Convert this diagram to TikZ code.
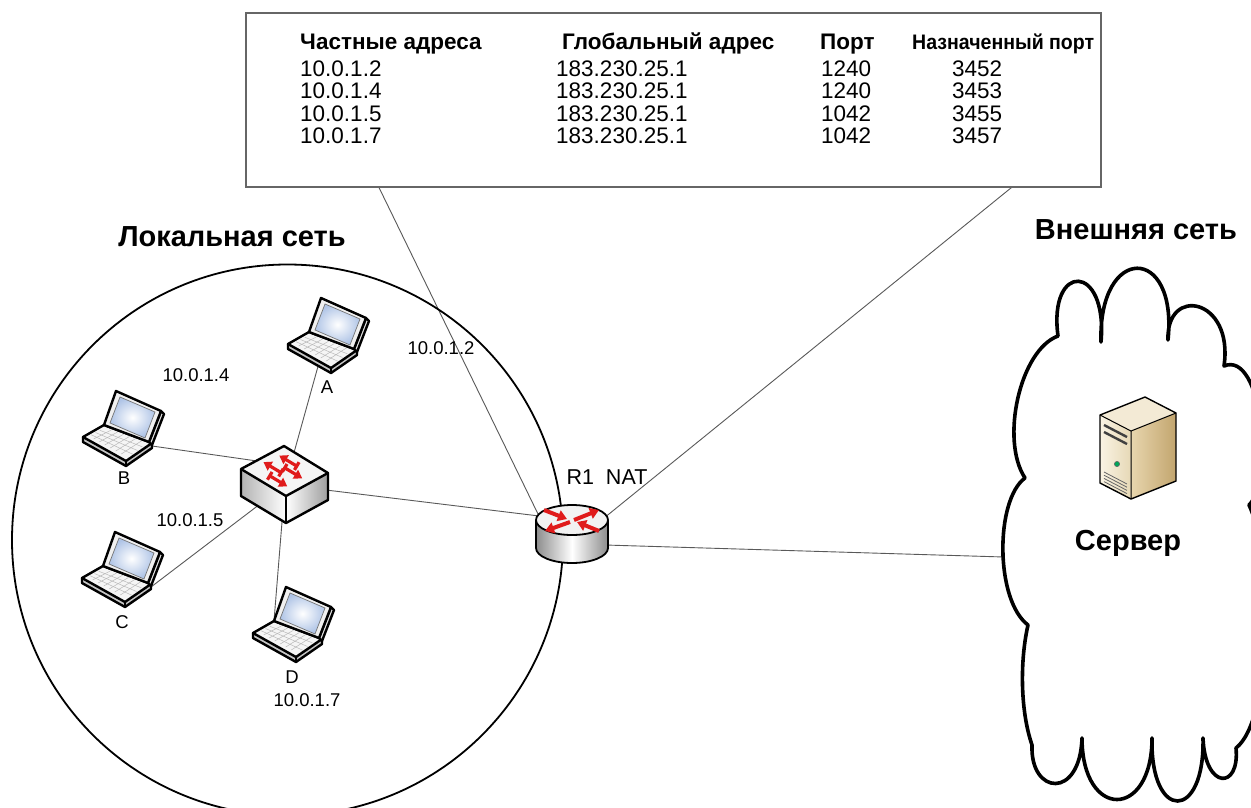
\documentclass[tikz,border=0pt]{standalone}
\usepackage{fontspec}
\setmainfont{Liberation Sans}
\usetikzlibrary{calc,arrows.meta}
\pgfdeclarelayer{background}
\pgfsetlayers{background,main}

\definecolor{lapblue}{HTML}{AFC4E6}
\definecolor{netred}{HTML}{E01B1B}
\definecolor{srvfront}{HTML}{FAF4E4}
\definecolor{srvfront2}{HTML}{E6D8B6}
\definecolor{srvside}{HTML}{E8D6AE}
\definecolor{srvside2}{HTML}{C2A56E}
\definecolor{srvtop}{HTML}{F3EAD5}

\tikzset{
  link/.style={draw=black!65, line width=0.9pt},
  outline/.style={draw=black, line width=2.4pt, line join=round},
  lbl/.style={font=\fontsize{18.5}{20}\selectfont, inner sep=0pt},
  ttl/.style={font=\bfseries\fontsize{29}{33}\selectfont, inner sep=0pt},
  cell/.style={font=\fontsize{22.5}{24}\selectfont, anchor=base west, inner sep=0pt},
  hcell/.style={font=\bfseries\fontsize{22.5}{24}\selectfont, anchor=base west, inner sep=0pt},
  swarrow/.style={draw=netred, line width=3.2pt, {Bar[width=9pt]}-{Triangle[length=8pt,width=10pt]}},
  rtarrow/.style={draw=netred, line width=4pt, -{Triangle[length=9pt,width=11pt]}},
  laptop/.pic={
    % keyboard base: front and right sides
    \fill[black!22] (-39,10) -- (4,34) -- (30,16) -- (30,21) -- (4,39) -- (-39,15) -- cycle;
    \draw[outline] (-39,10) -- (-39,15) -- (4,39) -- (30,21) -- (30,16);
    \draw[outline] (4,34) -- (4,39);
    % keyboard top with key grid
    \filldraw[fill=black!4, outline] (-39,10) -- (-18,-2) -- (30,16) -- (4,34) -- cycle;
    \foreach \k in {0.25,0.5,0.75}
      \draw[black!28, line width=0.5pt] ($(-35,10)!\k!(-18,1)$) -- ($(6,31)!\k!(25,16)$);
    \foreach \k in {0.15,0.3,0.45,0.6,0.75,0.9}
      \draw[black!28, line width=0.5pt] ($(-34,9)!\k!(3,29)$) -- ($(-17,1)!\k!(24,15)$);
    % lid edge and lid
    \filldraw[fill=black!12, outline] (39,-16) -- (42,-13) -- (30,18) -- (27,15) -- cycle;
    \filldraw[fill=black!6, outline] (-18,-2) -- (-6,-36) -- (39,-16) -- (27,15) -- cycle;
    \shade[inner color=white, outer color=lapblue] (-12,-4) -- (-2,-30) -- (33,-15) -- (23,11) -- cycle;
    \draw[black!55, line width=0.7pt] (-12,-4) -- (-2,-30) -- (33,-15) -- (23,11) -- cycle;
    \coordinate (-c) at (0,0);
    \coordinate (-r) at (30,19);
    \coordinate (-h) at (-18,-2);
  },
  switchbox/.pic={
    \shade[left color=black!30, right color=white] (-44,-2) -- (1,25) -- (1,52) -- (-44,25) -- cycle;
    \shade[left color=white, right color=black!38] (1,25) -- (43,2) -- (43,29) -- (1,52) -- cycle;
    \fill[black!4] (-1,-25) -- (-44,-2) -- (1,25) -- (43,2) -- cycle;
    \draw[outline] (-1,-25) -- (-44,-2) -- (-44,25) -- (1,52) -- (43,29) -- (43,2) -- cycle;
    \draw[outline] (-44,-2) -- (1,25) -- (43,2);
    \draw[outline] (1,25) -- (1,52);
    \begin{scope}[x={(0.857pt,-0.514pt)}, y={(0.88pt,0.47pt)}]
      \draw[swarrow] (3,12) -- (-19,12);
      \draw[swarrow] (1,-4) -- (-21,-4);
      \draw[swarrow] (-5,3) -- (17,3);
      \draw[swarrow] (-5,-14) -- (17,-14);
    \end{scope}
    \coordinate (-c) at (0,14);
    \coordinate (-t) at (0,-6);
  },
  router/.pic={
    \shade[left color=black!45, right color=black!45, middle color=white]
      (-36,0) -- (-36,28) arc[start angle=180, end angle=0, x radius=36, y radius=15] -- (36,0) -- cycle;
    \draw[outline, line width=1.8pt] (-36,0) -- (-36,28) arc[start angle=180, end angle=0, x radius=36, y radius=15] -- (36,0);
    \filldraw[fill=black!5, draw=black, line width=1.8pt] (0,0) ellipse[x radius=36, y radius=15];
    \draw[rtarrow] (-28,-10) -- (-5,-1);
    \draw[rtarrow] (2,0) -- (27,-10);
    \draw[rtarrow] (-2,2) -- (-27,11);
    \draw[rtarrow] (27,11) -- (5,2);
    \coordinate (-top) at (0,0);
    \coordinate (-c) at (0,24);
    \coordinate (-w) at (-34,-6);
  },
  server/.pic={
    \shade[left color=srvfront, right color=srvfront2] (-38,-33) -- (-7,-17) -- (-7,51) -- (-38,35) -- cycle;
    \shade[left color=srvside, right color=srvside2] (-7,-17) -- (38,-35) -- (38,33) -- (-7,51) -- cycle;
    \fill[srvtop] (-38,-33) -- (7,-51) -- (38,-35) -- (-7,-17) -- cycle;
    \draw[line width=1.4pt, line join=round] (-38,-33) -- (7,-51) -- (38,-35) -- (38,33) -- (-7,51) -- (-38,35) -- cycle;
    \draw[line width=1pt] (-38,-33) -- (-7,-17) -- (38,-35) (-7,-17) -- (-7,51);
    \draw[black!75, line width=2.4pt] (-34,-23) -- (-11,-11);
    \draw[black!75, line width=2.4pt] (-34,-16) -- (-11,-4);
    \filldraw[fill=teal!70!green, draw=black!60, line width=0.6pt] (-21,16) circle[radius=2.6];
    \foreach \i in {0,1,2,3}
      \draw[black!60, line width=0.8pt] (-34,24+3.2*\i) -- (-11,36+3.2*\i);
    \coordinate (-c) at (0,0);
  }
}

\begin{document}
\begin{tikzpicture}[x=1pt, y=-1pt]
  \useasboundingbox (0,0) rectangle (1251,807);
  \clip (0,0) rectangle (1251,807);
  \begin{pgfonlayer}{background}
    \fill[white] (0,0) rectangle (1251,807);
  \end{pgfonlayer}

  % translation table
  \node[draw=black!60, line width=1.5pt, minimum width=855pt, minimum height=174pt,
        anchor=north west, inner sep=0pt] (tbl) at (245,12) {};
  \node[hcell] (h1) at (300,49) {Частные адреса};
  \node[hcell] (h2) at (562,49) {Глобальный адрес};
  \node[hcell] (h3) at (820,49) {Порт};
  \node[hcell, font=\bfseries\fontsize{21}{24}\selectfont] (h4) at (912,49) {\scalebox{0.93}[1]{Назначенный порт}};
  \foreach \y/\a/\p/\q [count=\i] in {76/10.0.1.2/1240/3452, 98.5/10.0.1.4/1240/3453,
                                      121/10.0.1.5/1042/3455, 143.5/10.0.1.7/1042/3457} {
    \node[cell] (ip\i) at (300,\y) {\a};
    \node[cell] (gl\i) at (556,\y) {183.230.25.1};
    \node[cell] (pt\i) at (821,\y) {\p};
    \node[cell] (as\i) at (952,\y) {\q};
  }

  % network titles
  \node[ttl] (lan) at (232,237) {Локальная сеть};
  \node[ttl] (wan) at (1136,230) {Внешняя сеть};

  % local network boundary
  \draw[line width=1.8pt] (287.5,540) circle[radius=275.5];

  % external network cloud
  \filldraw[fill=white, draw=black, line width=3.6pt, line join=round]
    (1058,336)
    .. controls (1048,262) and (1108,262) .. (1101,342)
    .. controls (1098,244) and (1178,244) .. (1168,340)
    .. controls (1166,285) and (1234,298) .. (1224,366)
    .. controls (1262,350) and (1275,480) .. (1249,505)
    .. controls (1275,560) and (1272,720) .. (1236,748)
    .. controls (1240,790) and (1205,790) .. (1203,738)
    .. controls (1205,822) and (1150,822) .. (1152,738)
    .. controls (1152,820) and (1082,820) .. (1082,738)
    .. controls (1080,800) and (1030,795) .. (1032,745)
    .. controls (1020,710) and (1020,660) .. (1028,625)
    .. controls (995,600) and (995,500) .. (1025,478)
    .. controls (1000,440) and (1020,350) .. cycle;
  \coordinate (cloudW) at (1004,557);

  % devices
  \pic (A) at (327,334) {laptop};
  \pic (B) at (122,427) {laptop};
  \pic (C) at (121,568) {laptop};
  \pic (D) at (292,623) {laptop};
  \pic (sw) at (285,471) {switchbox};
  \pic (R1) at (572,520) {router};
  \pic (srv) at (1138,448) {server};

  % labels
  \node[lbl] (lA) at (327,387) {A};
  \node[lbl] (lB) at (124,478) {B};
  \node[lbl] (lC) at (122,622) {C};
  \node[lbl] (lD) at (292,677) {D};
  \node[lbl] (ipB) at (196,375) {10.0.1.4};
  \node[lbl] (ipC) at (190,520) {10.0.1.5};
  \node[lbl] (ipD) at (307,700) {10.0.1.7};
  \node[lbl] (ipA) at (441,348) {10.0.1.2};
  \node[font=\fontsize{21.5}{24}\selectfont, inner sep=0pt] (nat) at (607,477) {R1\ \ NAT};
  \node[font=\bfseries\fontsize{29}{33}\selectfont, inner sep=0pt, anchor=base] (srvname) at (1128,550) {Сервер};

  % connectors
  \begin{pgfonlayer}{background}
    \draw[link] (sw-c) -- (A-c);
    \draw[link] (sw-t) -- (B-r);
    \draw[link] (sw-c) -- (C-r);
    \draw[link] (sw-c) -- (D-h);
    \draw[link] (sw-c) -- (R1-top);
    \draw[link] (R1-c) -- (cloudW);
    \draw[link] ([xshift=134pt]tbl.south west) -- (R1-w);
    \draw[link] ([xshift=-90pt]tbl.south east) -- (R1-c);
  \end{pgfonlayer}
\end{tikzpicture}
\end{document}
